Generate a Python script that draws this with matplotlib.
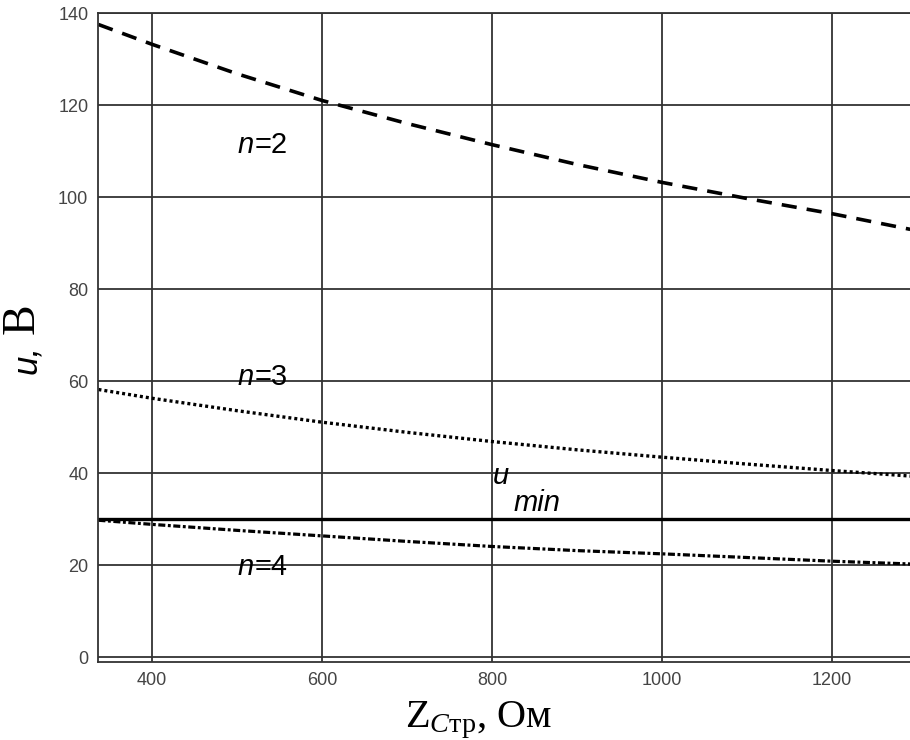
import matplotlib
matplotlib.use('Agg')
import matplotlib.pyplot as plt

# данные
z = [337, 400, 500, 600, 700, 800, 900, 1000, 1100, 1200, 1292]
u_n2 = [137.5, 133.2, 126.8, 121.0, 116.0, 111.4, 107.1, 103.2, 99.7, 96.4, 93.0]
u_n3 = [58.2, 56.3, 53.6, 51.1, 48.9, 46.9, 45.1, 43.5, 42.0, 40.6, 39.4]
u_n4 = [29.8, 28.9, 27.6, 26.4, 25.2, 24.1, 23.2, 22.5, 21.7, 20.9, 20.3]
u_min = 30
xticks = [400, 600, 800, 1000, 1200]
yticks = [0, 20, 40, 60, 80, 100, 120, 140]

plt.rcParams['mathtext.fontset'] = 'custom'
plt.rcParams['mathtext.rm'] = 'Liberation Serif'
plt.rcParams['mathtext.it'] = 'Liberation Serif:italic'

fig = plt.figure(figsize=(9.1, 7.4), dpi=100)
ax = fig.add_axes([98 / 910, 1 - 662 / 740, 812 / 910, 649 / 740])

ax.plot(z, u_n2, color='black', lw=2.6, linestyle=(0, (4.2, 2.8)))
ax.plot(z, u_n3, color='black', lw=2.4, linestyle=(0, (0.9, 0.9)))
ax.plot(z, u_n4, color='black', lw=2.3, linestyle=(0, (2.2, 0.8, 0.9, 0.8)))
ax.axhline(u_min, color='black', lw=2.4)

ax.set_xlim(336.5, 1291.8)
ax.set_ylim(-1, 140)
ax.set_xticks(xticks)
ax.set_yticks(yticks)
ax.grid(True, color='#333333', lw=1.3)
ax.set_axisbelow(True)
ax.tick_params(length=0, labelsize=13, labelcolor='#444444', pad=7)
for lab in ax.get_xticklabels() + ax.get_yticklabels():
    lab.set_fontfamily('Liberation Sans')
for s in ax.spines.values():
    s.set_color('#333333')
    s.set_linewidth(1.3)
ax.spines['right'].set_visible(False)

# подписи кривых
lab_kw = dict(fontsize=21, family='Liberation Sans', va='baseline')
for n, yv in [(2, 109.6), (3, 59.2), (4, 17.9)]:
    ax.text(501, yv, 'n', style='italic', ha='left', **lab_kw)
    ax.text(521, yv, '=%d' % n, ha='left', **lab_kw)
ax.text(801, 36.4, 'u', style='italic', ha='left', fontsize=21,
        family='Liberation Sans', va='bottom')
ax.text(825, 31.7, 'min', style='italic', ha='left', fontsize=21,
        family='Liberation Sans', va='baseline')

# подписи осей
fig.text(43 / 910, 1 - 360 / 740, 'u,', rotation=90, fontsize=25, style='italic',
         family='Liberation Sans', ha='right', va='center')
fig.text(44 / 910, 1 - 319 / 740, 'В', rotation=90, fontsize=33,
         family='Liberation Serif', ha='right', va='center')
fig.text(405 / 910, 1 - 727 / 740, r'Z$_{\mathit{C}\mathrm{тр}}$, Ом',
         fontsize=29, family='Liberation Serif', ha='left', va='baseline')

plt.savefig('out.png', dpi=100)
